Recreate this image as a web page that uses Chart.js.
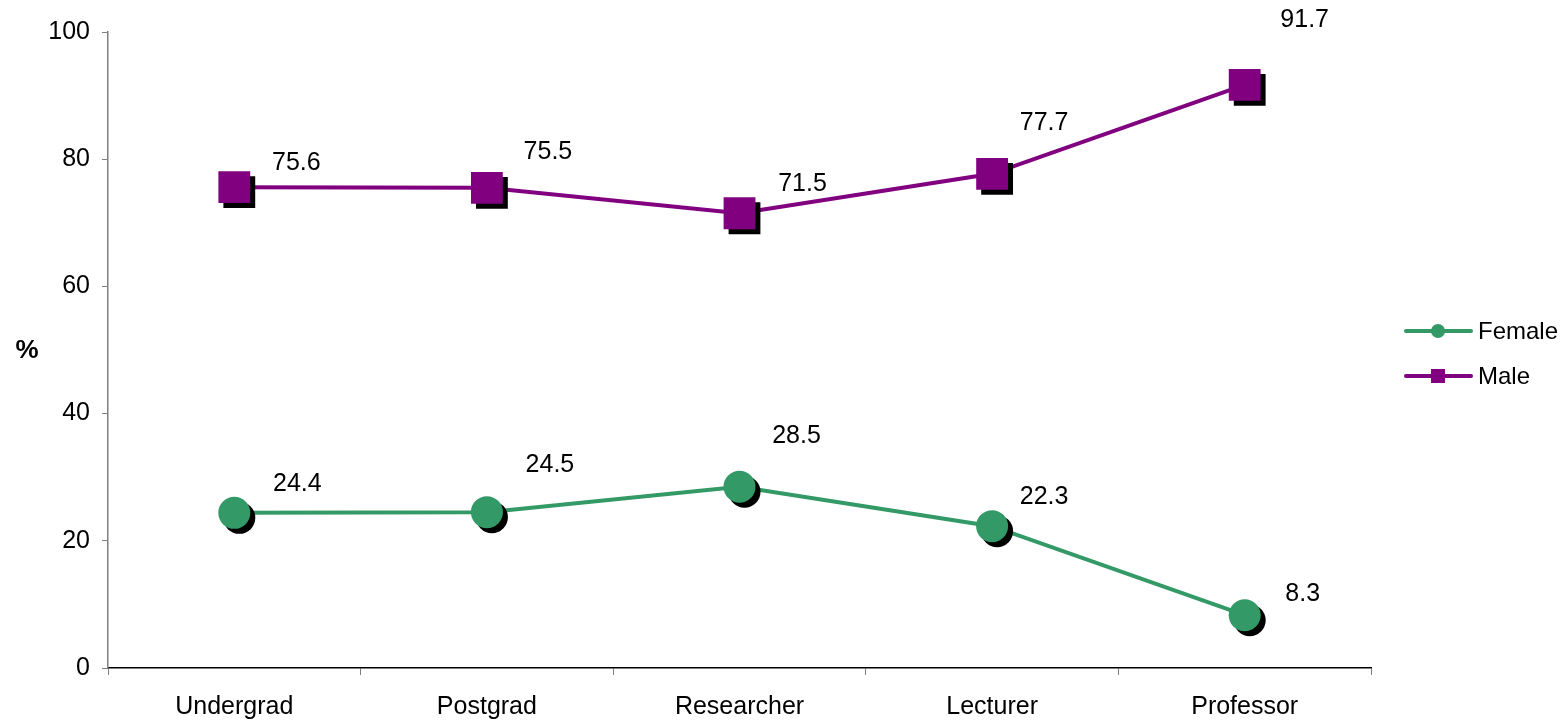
<!DOCTYPE html>
<html>
<head>
<meta charset="utf-8">
<script src="https://cdn.jsdelivr.net/npm/chart.js@4/dist/chart.umd.min.js"></script>
<style>
  html, body { margin: 0; padding: 0; background: #fff; }
  #wrap { width: 1562px; height: 720px; position: relative; }
</style>
</head>
<body>
<div id="wrap"><canvas id="chart"></canvas></div>
<script>
// data
const categories = ["Undergrad", "Postgrad", "Researcher", "Lecturer", "Professor"];
const female = [24.4, 24.5, 28.5, 22.3, 8.3];
const male = [75.6, 75.5, 71.5, 77.7, 91.7];
const yTicks = [0, 20, 40, 60, 80, 100];

const GREEN = "#339966";
const PURPLE = "#800080";
const FONT = "Arial, 'Liberation Sans', sans-serif";

// where each value label sits relative to its point (Excel had them nudged by hand)
const femaleLabelShift = [[63, -29], [63, -47], [57, -51], [52, -29], [58, -21]];
const maleLabelShift = [[62, -24], [61, -36], [63, -29], [52, -51], [60, -65]];

// markers get a hard black drop shadow, lines don't
const markerShadow = {
    id: "markerShadow",
    beforeDatasetDraw(chart, args) {
        const ds = chart.data.datasets[args.index];
        if (!ds.isMarker) return;
        const ctx = chart.ctx;
        ctx.save();
        ctx.shadowColor = "#000";
        ctx.shadowOffsetX = 5;
        ctx.shadowOffsetY = 5;
        ctx.shadowBlur = 0;
    },
    afterDatasetDraw(chart, args) {
        const ds = chart.data.datasets[args.index];
        if (!ds.isMarker) return;
        chart.ctx.restore();
    }
};

const valueLabels = {
    id: "valueLabels",
    afterDatasetsDraw(chart) {
        const ctx = chart.ctx;
        ctx.save();
        ctx.font = "25px " + FONT;
        ctx.fillStyle = "#000";
        ctx.textAlign = "center";
        ctx.textBaseline = "middle";
        chart.data.datasets.forEach((ds, i) => {
            if (!ds.isMarker) return;
            const meta = chart.getDatasetMeta(i);
            meta.data.forEach((pt, j) => {
                const s = ds.labelShift[j];
                ctx.fillText(ds.data[j].toFixed(1), pt.x + s[0], pt.y + s[1]);
            });
        });
        ctx.restore();
    }
};

// "%" title (upright) and the legend on the right
const extras = {
    id: "extras",
    afterDraw(chart) {
        const ctx = chart.ctx;
        ctx.save();
        ctx.fillStyle = "#000";
        ctx.font = "bold 26px " + FONT;
        ctx.textAlign = "center";
        ctx.textBaseline = "middle";
        ctx.fillText("%", 27, 351);

        const items = [
            { label: "Female", color: GREEN, style: "circle", y: 331 },
            { label: "Male", color: PURPLE, style: "rect", y: 376 }
        ];
        items.forEach(it => {
            ctx.strokeStyle = it.color;
            ctx.lineWidth = 4;
            ctx.lineCap = "round";
            ctx.beginPath();
            ctx.moveTo(1406, it.y);
            ctx.lineTo(1471, it.y);
            ctx.stroke();
            ctx.fillStyle = it.color;
            if (it.style === "circle") {
                ctx.beginPath();
                ctx.arc(1438, it.y, 7, 0, Math.PI * 2);
                ctx.fill();
            } else {
                ctx.fillRect(1431, it.y - 7, 14, 14);
            }
            ctx.fillStyle = "#000";
            ctx.font = "24px " + FONT;
            ctx.textAlign = "left";
            ctx.fillText(it.label, 1478, it.y + 1);
        });
        ctx.restore();
    }
};

new Chart(document.getElementById("chart"), {
    type: "line",
    data: {
        labels: categories,
        datasets: [
            {
                label: "Female",
                data: female,
                borderColor: GREEN,
                borderWidth: 4,
                pointRadius: 0,
                order: 3
            },
            {
                label: "Male",
                data: male,
                borderColor: PURPLE,
                borderWidth: 4,
                pointRadius: 0,
                order: 3
            },
            {
                label: "Female markers",
                data: female,
                isMarker: true,
                labelShift: femaleLabelShift,
                showLine: false,
                pointStyle: "circle",
                pointRadius: 16,
                backgroundColor: GREEN,
                pointBorderWidth: 0,
                order: 2
            },
            {
                label: "Male markers",
                data: male,
                isMarker: true,
                labelShift: maleLabelShift,
                showLine: false,
                pointStyle: "rect",
                pointRadius: 22.5,
                backgroundColor: PURPLE,
                pointBorderWidth: 0,
                order: 1
            }
        ]
    },
    options: {
        responsive: true,
        maintainAspectRatio: false,
        animation: false,
        events: [],
        layout: { padding: { top: 32, right: 191, left: 0, bottom: 0 } },
        plugins: {
            legend: { display: false },
            tooltip: { enabled: false }
        },
        scales: {
            x: {
                offset: true,
                grid: {
                    offset: true,
                    drawOnChartArea: false,
                    drawTicks: true,
                    tickLength: 7,
                    color: "#808080"
                },
                border: { color: "#000", width: 1.5 },
                ticks: {
                    color: "#000",
                    font: { size: 25, family: FONT },
                    padding: 17
                },
                afterFit(scale) { scale.height = 52; }
            },
            y: {
                min: 0,
                max: 100,
                afterBuildTicks(scale) {
                    scale.ticks = yTicks.map(v => ({ value: v }));
                },
                grid: {
                    drawOnChartArea: false,
                    drawTicks: true,
                    tickLength: 6,
                    color: "#808080"
                },
                border: { color: "#808080", width: 1.5 },
                ticks: {
                    color: "#000",
                    font: { size: 25, family: FONT },
                    padding: 12
                },
                afterFit(scale) { scale.width = 108; }
            }
        }
    },
    plugins: [markerShadow, valueLabels, extras]
});
</script>
</body>
</html>
